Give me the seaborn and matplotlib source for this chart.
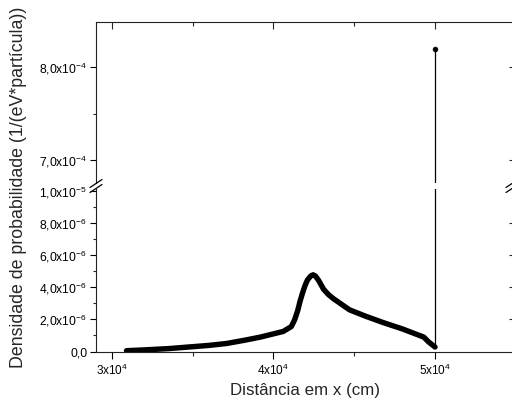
import matplotlib
matplotlib.use("Agg")
import matplotlib.pyplot as plt
import seaborn as sns
import numpy as np
import pandas as pd
from matplotlib.lines import Line2D
from matplotlib.ticker import MultipleLocator, FixedLocator

# ---- data ----
x_curve = [3.09e4, 3.20e4, 3.35e4, 3.50e4, 3.60e4, 3.71e4, 3.82e4, 3.92e4, 4.00e4,
           4.06e4, 4.11e4, 4.13e4, 4.15e4, 4.165e4, 4.18e4, 4.195e4, 4.21e4, 4.23e4,
           4.245e4, 4.26e4, 4.28e4, 4.295e4, 4.31e4, 4.34e4, 4.37e4, 4.42e4,
           4.47e4, 4.57e4, 4.68e4, 4.80e4, 4.93e4, 4.96e4, 5.00e4]
y_curve = [0.05e-6, 0.10e-6, 0.18e-6, 0.30e-6, 0.38e-6, 0.50e-6, 0.70e-6, 0.90e-6, 1.10e-6,
           1.25e-6, 1.55e-6, 1.95e-6, 2.55e-6, 3.15e-6, 3.65e-6, 4.10e-6, 4.45e-6, 4.70e-6,
           4.78e-6, 4.70e-6, 4.42e-6, 4.15e-6, 3.88e-6, 3.55e-6, 3.30e-6, 2.95e-6,
           2.60e-6, 2.20e-6, 1.80e-6, 1.40e-6, 0.90e-6, 0.60e-6, 0.28e-6]
x_spike = [5.00e4]
y_spike = [8.19e-4]

x_ticks = [3e4, 4e4, 5e4]
x_ticklabels = ["3x10$^{4}$", "4x10$^{4}$", "5x10$^{4}$"]
y_low_ticks = [0, 2e-6, 4e-6, 6e-6, 8e-6, 1e-5]
y_low_labels = ["0,0", "2,0x10$^{-6}$", "4,0x10$^{-6}$", "6,0x10$^{-6}$", "8,0x10$^{-6}$", "1,0x10$^{-5}$"]
y_up_ticks = [7e-4, 8e-4]
y_up_labels = ["7,0x10$^{-4}$", "8,0x10$^{-4}$"]

x_label = "Distância em x (cm)"
y_label = "Densidade de probabilidade (1/(eV*partícula))"

df_curve = pd.DataFrame({"x": x_curve, "y": y_curve})
df_link = pd.DataFrame({"x": [x_curve[-1], x_spike[0]], "y": [y_curve[-1], y_spike[0]]})
df_spike = pd.DataFrame({"x": x_spike, "y": y_spike})

sns.set_style("ticks")
plt.rcParams["font.family"] = ["Liberation Sans", "DejaVu Sans"]
plt.rcParams["mathtext.default"] = "regular"

W, H = 512, 405
fig = plt.figure(figsize=(W / 100, H / 100), dpi=100)

def frac_box(left, top, right, bottom):
    return [left / W, (H - bottom) / H, (right - left) / W, (bottom - top) / H]

ax_up = fig.add_axes(frac_box(96, 22, 513, 183))
ax_lo = fig.add_axes(frac_box(96, 189, 513, 351.5))

xlim = (2.901e4, 5.483e4)

for ax in (ax_up, ax_lo):
    sns.lineplot(data=df_curve, x="x", y="y", ax=ax, color="black", linewidth=3.9,
                 sort=False, estimator=None, solid_capstyle="round", solid_joinstyle="round")
    sns.lineplot(data=df_link, x="x", y="y", ax=ax, color="black", linewidth=0.9,
                 sort=False, estimator=None)
    sns.scatterplot(data=df_spike, x="x", y="y", ax=ax, color="black", s=12,
                    marker="o", edgecolor="black", linewidth=0.5, zorder=5)
    ax.set_xlim(*xlim)
    ax.set_xlabel("")
    ax.set_ylabel("")
    for s in ax.spines.values():
        s.set_linewidth(0.8)
        s.set_color("#222222")

ax_lo.set_ylim(0, 1.0125e-5)
ax_up.set_ylim(6.753e-4, 8.484e-4)

# lower axis
ax_lo.spines["top"].set_visible(False)
ax_lo.set_yticks(y_low_ticks)
ax_lo.set_yticklabels(y_low_labels)
ax_lo.yaxis.set_minor_locator(MultipleLocator(1e-6))
ax_lo.set_xticks(x_ticks)
ax_lo.set_xticklabels(x_ticklabels)
ax_lo.xaxis.set_minor_locator(FixedLocator([3.5e4, 4.5e4]))
ax_lo.tick_params(axis="x", which="major", direction="out", length=5, width=0.8,
                  top=False, bottom=True, labelsize=8.5, pad=3, colors="black")
ax_lo.tick_params(axis="x", which="minor", direction="out", length=3, width=0.8,
                  top=False, bottom=True)
ax_lo.tick_params(axis="y", which="major", direction="out", length=4.3, width=0.8,
                  left=True, right=False, labelsize=8.7, pad=2, colors="black")
ax_lo.tick_params(axis="y", which="minor", direction="out", length=2.5, width=0.8,
                  left=True, right=False)

# lower right ticks (inward)
ax_lo_r = ax_lo.secondary_yaxis("right")
ax_lo_r.set_yticks(y_low_ticks[1:-1])
ax_lo_r.tick_params(direction="in", length=3, width=0.8, labelright=False)
ax_lo_r.spines["right"].set_linewidth(0.8)

# upper axis
ax_up.spines["bottom"].set_visible(False)
ax_up.set_yticks(y_up_ticks)
ax_up.set_yticklabels(y_up_labels)
ax_up.yaxis.set_minor_locator(FixedLocator([7.5e-4]))
ax_up.set_xticks(x_ticks)
ax_up.xaxis.set_minor_locator(FixedLocator([3.5e4, 4.5e4]))
ax_up.tick_params(axis="x", which="major", direction="in", length=5, width=0.8,
                  top=True, bottom=False, labelbottom=False, labeltop=False)
ax_up.tick_params(axis="x", which="minor", direction="in", length=3, width=0.8,
                  top=True, bottom=False)
ax_up.tick_params(axis="y", which="major", direction="out", length=4.3, width=0.8,
                  left=True, right=False, labelsize=8.7, pad=2, colors="black")
ax_up.tick_params(axis="y", which="minor", direction="out", length=2.5, width=0.8,
                  left=True, right=False)
ax_up_r = ax_up.secondary_yaxis("right")
ax_up_r.set_yticks(y_up_ticks)
ax_up_r.tick_params(direction="in", length=3, width=0.8, labelright=False)

# axis break marks
def px(xp, yp):
    return xp / W, (H - yp) / H

for x0 in (96, 512):
    for dy in (-2.5, 2.5):
        (a, b), (c, d) = px(x0 - 6, 186 + dy + 4), px(x0 + 6, 186 + dy - 4)
        fig.add_artist(Line2D([a, c], [b, d], color="black", linewidth=0.9))

# labels
fig.text(*px(305, 390), x_label, ha="center", va="center", fontsize=12.2)
fig.text(*px(19, 187), y_label, ha="center", va="center", rotation=90, fontsize=12.8)

fig.savefig("out.png", dpi=100)
